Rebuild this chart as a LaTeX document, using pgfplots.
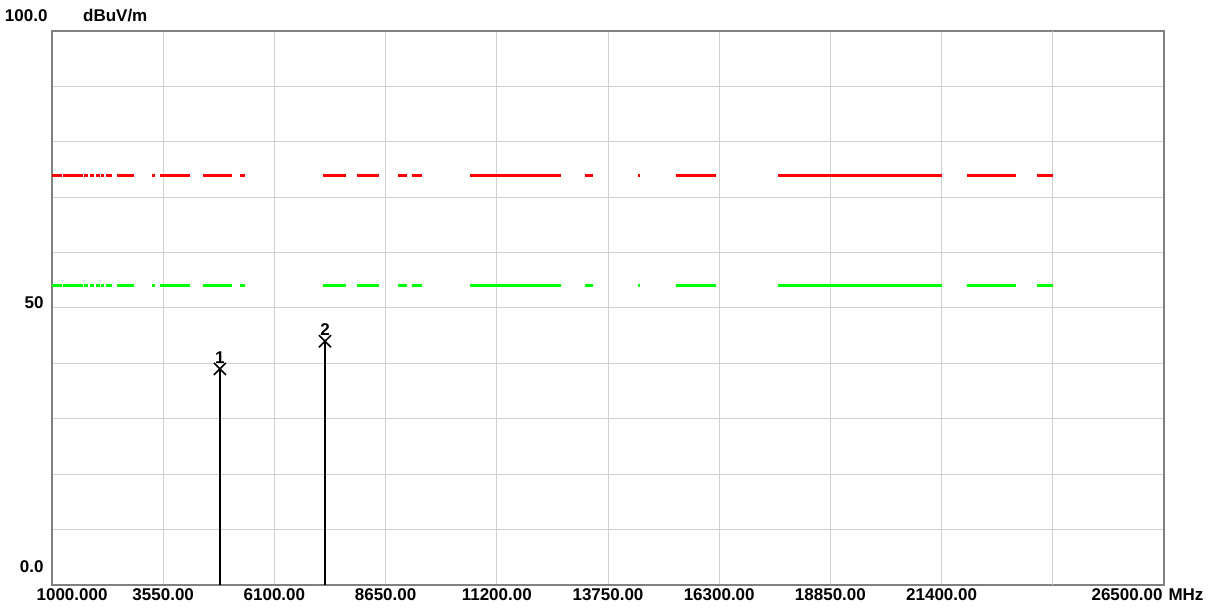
\documentclass[border=0pt]{standalone}
\usepackage{pgfplots}
\pgfplotsset{compat=1.18}
\usepackage{pgfplotstable}
\usepackage{fontspec}
\setmainfont{Liberation Sans}
\pgfplotstableread{
x r g
1000 74 54
1229 74 54
1229 nan nan
1252 74 54
1711 74 54
1711 nan nan
1740 74 54
1830 74 54
1830 nan nan
1870 74 54
1960 74 54
1960 nan nan
2000 74 54
2090 74 54
2090 nan nan
2130 74 54
2200 74 54
2200 nan nan
2240 74 54
2376 74 54
2376 nan nan
2491 74 54
2880 74 54
2880 nan nan
3293 74 54
3362 74 54
3362 nan nan
3477 74 54
4165 74 54
4165 nan nan
4463 74 54
5128 74 54
5128 nan nan
5311 74 54
5426 74 54
5426 nan nan
7214 74 54
7742 74 54
7742 nan nan
7994 74 54
8498 74 54
8498 nan nan
8934 74 54
9140 74 54
9140 nan nan
9255 74 54
9484 74 54
9484 nan nan
10585 74 54
12671 74 54
12671 nan nan
13222 74 54
13405 74 54
13405 nan nan
14437 74 54
14483 74 54
14483 nan nan
15308 74 54
16225 74 54
16225 nan nan
17647 74 54
21408 74 54
21408 nan nan
21981 74 54
23105 74 54
23105 nan nan
23587 74 54
23954 74 54
}\limits
\newcommand{\lbl}{\bfseries\fontsize{17}{17}\selectfont}
\begin{document}
\begin{tikzpicture}
\useasboundingbox (0pt,0pt) rectangle (1210pt,609pt);
\fill[white] (0pt,0pt) rectangle (1210pt,609pt);
\begin{axis}[at={(52pt,24pt)}, anchor=south west, scale only axis,
  width=1112pt, height=554pt,
  xmin=1000, xmax=26500, ymin=0, ymax=100,
  xtick={3550,6100,8650,11200,13750,16300,18850,21400},
  xticklabels={3550.00,6100.00,8650.00,11200.00,13750.00,16300.00,18850.00,21400.00},
  xticklabel style={font=\lbl, anchor=base, yshift=-16pt},
  ytick={0,10,...,100}, yticklabels={},
  grid=major, major grid style={draw=black!18, line width=1pt},
  axis line style={draw=black!50, line width=2.5pt},
  tick style={draw=none},
  unbounded coords=jump, clip=false]
\draw[black!18, line width=1pt] (axis cs:23950,0) -- (axis cs:23950,100);
\addplot[red, line width=3pt, no markers] table[x=x,y=r] {\limits};
\addplot[green, line width=3pt, no markers] table[x=x,y=g] {\limits};
\addplot[black, line width=1.3pt, ycomb, mark=x, mark size=8.5pt,
  mark options={line width=1.6pt},
  point meta=explicit symbolic, nodes near coords,
  nodes near coords style={font=\lbl, anchor=south, yshift=5pt, inner sep=0pt, black}]
  coordinates {(4850,39) [1] (7260,44) [2]};
\node[font=\lbl, anchor=base] at (axis cs:1460,0) [yshift=-16pt] {1000.000};
\node[font=\lbl, anchor=base east] at (axis cs:26500,0) [yshift=-16pt, xshift=2pt] {26500.00};
\node[font=\lbl, anchor=base west] at (axis cs:26500,0) [yshift=-16pt, xshift=1pt] {MHz};
\node[font=\lbl, anchor=base east] at (axis cs:1000,0) [xshift=-5pt, yshift=12pt] {0.0};
\node[font=\lbl, anchor=base east] at (axis cs:1000,50) [xshift=-5pt, yshift=-1pt] {50};
\node[font=\lbl, anchor=base east] at (axis cs:1000,100) [xshift=-1pt, yshift=9pt] {100.0};
\node[font=\lbl, anchor=base] at (axis cs:2450,100) [yshift=9pt] {dBuV/m};
\end{axis}
\end{tikzpicture}
\end{document}
